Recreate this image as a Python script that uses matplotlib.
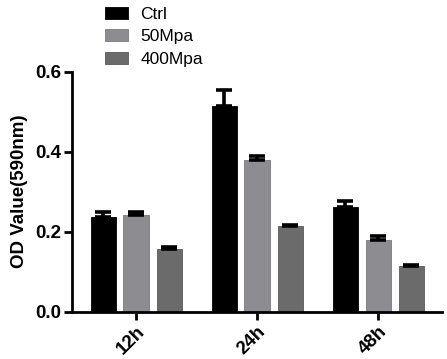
import matplotlib
matplotlib.use("Agg")
import matplotlib.pyplot as plt
import numpy as np

groups = ["12h", "24h", "48h"]
series = ["Ctrl", "50Mpa", "400Mpa"]
means = {
    "Ctrl": [0.236, 0.514, 0.262],
    "50Mpa": [0.242, 0.379, 0.178],
    "400Mpa": [0.157, 0.213, 0.113],
}
errs = {
    "Ctrl": [0.013, 0.040, 0.014],
    "50Mpa": [0.008, 0.010, 0.011],
    "400Mpa": [0.005, 0.003, 0.004],
}
colors = {"Ctrl": "#000000", "50Mpa": "#8d8d91", "400Mpa": "#6b6b6b"}
edges = {"Ctrl": "#000000", "50Mpa": "#7a7a7e", "400Mpa": "#5a5a5a"}

plt.rcParams.update({"font.family": ["Liberation Sans", "DejaVu Sans"]})

fig = plt.figure(figsize=(4.47, 3.59), dpi=100)
ax = fig.add_axes([0.161, 0.132, 0.828, 0.668])

x = np.arange(len(groups))
w = 0.207
offs = [-0.27, 0.0, 0.275]
for s, o in zip(series, offs):
    ax.bar(x + o, means[s], w, color=colors[s], edgecolor=edges[s], linewidth=0.6,
           label=s, zorder=2)
    ax.errorbar(x + o, means[s], yerr=[np.zeros(3), errs[s]], fmt="none", ecolor="black",
                elinewidth=2.6, capsize=6, capthick=2.6, zorder=3)

ax.set_xlim(-0.529, 2.529)
ax.set_ylim(0, 0.6)
ax.set_yticks([0.0, 0.2, 0.4, 0.6])
ax.set_yticklabels(["0.0", "0.2", "0.4", "0.6"], fontsize=13.5, fontweight="bold")
ax.set_xticks(x)
ax.set_xticklabels(groups, fontsize=13.5, fontweight="bold", rotation=45, ha="right",
                   rotation_mode="anchor")
ax.set_ylabel("OD Value(590nm)", fontsize=13.5, fontweight="bold", labelpad=5)
for sp in ["top", "right"]:
    ax.spines[sp].set_visible(False)
for sp in ["left", "bottom"]:
    ax.spines[sp].set_linewidth(2)
ax.tick_params(axis="both", width=2, length=6, pad=2)

fig.legend(loc="upper left", bbox_to_anchor=(0.2, 1.025), frameon=False, fontsize=12.5,
           handlelength=1.35, handleheight=0.7, handletextpad=0.7, labelspacing=0.42)

fig.savefig("out.png", dpi=100)
